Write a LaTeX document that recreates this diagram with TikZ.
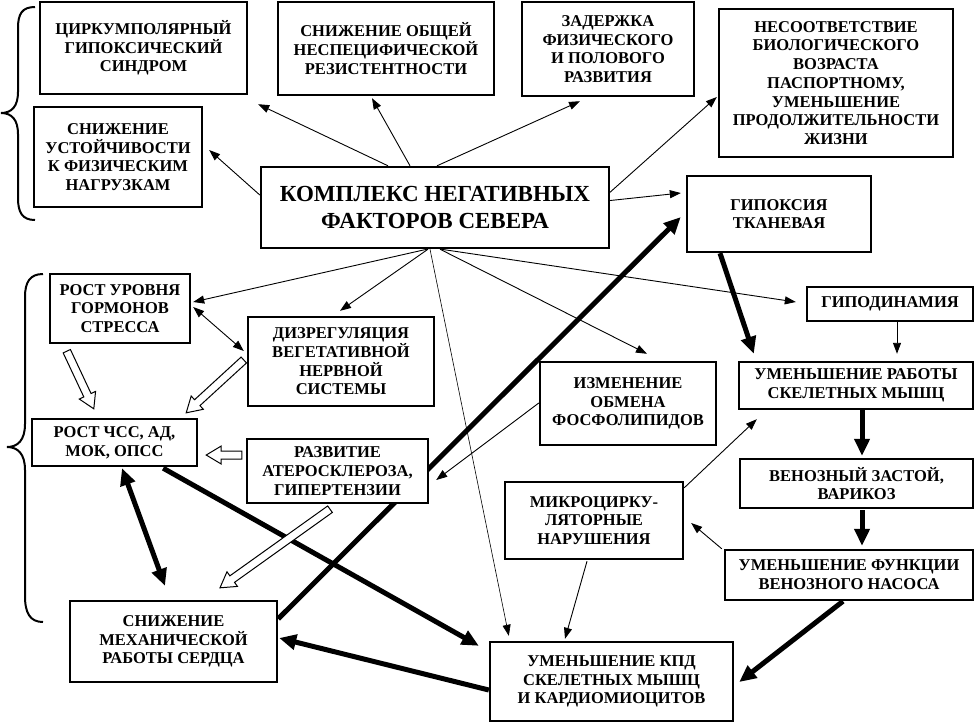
\documentclass[tikz,border=0pt]{standalone}
\usepackage{fontspec}
\setmainfont{Liberation Serif}
\usetikzlibrary{arrows.meta,calc}
\pgfdeclarelayer{bg}
\pgfsetlayers{bg,main}
\newcommand\hollowarr[2]{%
  \coordinate (hA) at (#1);
  \coordinate (hB) at (#2);
  \coordinate (hH) at ($(hB)!15pt!(hA)$);
  \draw[hollowst] ($(hA)!4pt!90:(hB)$) -- ($(hH)!4pt!90:(hB)$) -- ($(hH)!9pt!90:(hB)$) -- (hB)
     -- ($(hH)!9pt!-90:(hB)$) -- ($(hH)!4pt!-90:(hB)$) -- ($(hA)!4pt!-90:(hB)$) -- cycle;}
\begin{document}
\begin{tikzpicture}[x=1pt,y=-1pt,
  box/.style={draw, fill=white, line width=2.4pt, align=center, inner sep=0pt,
    font=\fontsize{16.5}{18.7}\selectfont\bfseries},
  tarr/.style={line width=0.9pt, -{Triangle[length=11pt,width=8pt]}},
  tdbl/.style={line width=0.9pt, {Triangle[length=11pt,width=8pt]}-{Triangle[length=11pt,width=8pt]}},
  farr/.style={line width=5pt, -{Triangle[length=17pt,width=15pt]}},
  fdbl/.style={line width=5pt, {Triangle[length=17pt,width=15pt]}-{Triangle[length=17pt,width=15pt]}},
  hollowst/.style={draw, fill=white, line width=1pt, line join=miter},
  bracest/.style={line width=2pt}]
\begin{pgfonlayer}{bg}
\useasboundingbox[fill=white] (0,0) rectangle (976,724);
\end{pgfonlayer}

% boxes
\node[box, minimum width=207pt, minimum height=92pt] (c1) at (143.5,48) {ЦИРКУМПОЛЯРНЫЙ\\ГИПОКСИЧЕСКИЙ\\СИНДРОМ};
\node[box, minimum width=216pt, minimum height=93pt] (c2) at (386,48.5) {СНИЖЕНИЕ ОБЩЕЙ\\НЕСПЕЦИФИЧЕСКОЙ\\РЕЗИСТЕНТНОСТИ};
\node[box, minimum width=172pt, minimum height=94pt] (c3) at (608,49) {ЗАДЕРЖКА\\ФИЗИЧЕСКОГО\\И ПОЛОВОГО\\РАЗВИТИЯ};
\node[box, minimum width=234pt, minimum height=148pt] (c4) at (836,83) {НЕСООТВЕТСТВИЕ\\БИОЛОГИЧЕСКОГО\\ВОЗРАСТА\\ПАСПОРТНОМУ,\\УМЕНЬШЕНИЕ\\ПРОДОЛЖИТЕЛЬНОСТИ\\ЖИЗНИ};
\node[box, minimum width=168pt, minimum height=100pt] (c5) at (118,157) {СНИЖЕНИЕ\\УСТОЙЧИВОСТИ\\К ФИЗИЧЕСКИМ\\НАГРУЗКАМ};
\node[box, minimum width=348pt, minimum height=81pt, font=\fontsize{23}{27}\selectfont\bfseries] (c6) at (435,207.5) {КОМПЛЕКС НЕГАТИВНЫХ\\ФАКТОРОВ СЕВЕРА};
\node[box, minimum width=184pt, minimum height=76pt] (c7) at (779,214) {ГИПОКСИЯ\\ТКАНЕВАЯ};
\node[box, minimum width=140pt, minimum height=69pt] (c8) at (120,308.5) {РОСТ УРОВНЯ\\ГОРМОНОВ\\СТРЕССА};
\node[box, minimum width=186pt, minimum height=89pt] (c9) at (341,361.5) {ДИЗРЕГУЛЯЦИЯ\\ВЕГЕТАТИВНОЙ\\НЕРВНОЙ\\СИСТЕМЫ};
\node[box, minimum width=165pt, minimum height=47pt] (c10) at (114.5,442.5) {РОСТ ЧСС, АД,\\МОК, ОПСС};
\node[box, minimum width=181pt, minimum height=64pt] (c11) at (337.5,471) {РАЗВИТИЕ\\АТЕРОСКЛЕРОЗА,\\ГИПЕРТЕНЗИИ};
\node[box, minimum width=166pt, minimum height=34pt] (c12) at (890,304) {ГИПОДИНАМИЯ};
\node[box, minimum width=176pt, minimum height=83pt] (c13) at (628,403.5) {ИЗМЕНЕНИЕ\\ОБМЕНА\\ФОСФОЛИПИДОВ};
\node[box, minimum width=234pt, minimum height=47pt] (c14) at (856,385.5) {УМЕНЬШЕНИЕ РАБОТЫ\\СКЕЛЕТНЫХ МЫШЦ};
\node[box, minimum width=233pt, minimum height=49pt] (c15) at (856.5,483.5) {ВЕНОЗНЫЙ ЗАСТОЙ,\\ВАРИКОЗ};
\node[box, minimum width=178pt, minimum height=77pt] (c16) at (594,520.5) {МИКРОЦИРКУ-\\ЛЯТОРНЫЕ\\НАРУШЕНИЯ};
\node[box, minimum width=248pt, minimum height=50pt] (c17) at (849,575) {УМЕНЬШЕНИЕ ФУНКЦИИ\\ВЕНОЗНОГО НАСОСА};
\node[box, minimum width=207pt, minimum height=81pt] (c18) at (173.5,641.5) {СНИЖЕНИЕ\\МЕХАНИЧЕСКОЙ\\РАБОТЫ СЕРДЦА};
\node[box, minimum width=243pt, minimum height=79pt] (c19) at (611.5,681.5) {УМЕНЬШЕНИЕ КПД\\СКЕЛЕТНЫХ МЫШЦ\\И КАРДИОМИОЦИТОВ};

% braces
\draw[bracest] (35,7) .. controls (22,7) and (18,14) .. (18,28) -- (18,92)
  .. controls (18,106) and (12,113) .. (1,113) .. controls (12,113) and (18,120) .. (18,134)
  -- (18,198) .. controls (18,212) and (22,220) .. (35,220);
\draw[bracest] (43,274) .. controls (30,274) and (25,282) .. (25,297) -- (25,424)
  .. controls (25,440) and (18,447) .. (7,447) .. controls (18,447) and (25,454) .. (25,470)
  -- (25,596) .. controls (25,613) and (30,622) .. (43,622);

\begin{pgfonlayer}{bg}
% thin arrows from the central box
\draw[tarr] ($(c6.north)+(-47,0)$) -- ($(c1.south east)+(10,9)$);
\draw[tarr] ($(c6.north)+(-25,0)$) -- ($(c2.south)+(-14,2)$);
\draw[tarr] ($(c6.west)+(0,-12.5)$) -- ($(c5.east)+(6,-7)$);
\draw[tarr] ($(c6.north)+(2,0)$) -- ($(c3.south)+(-28,4)$);
\draw[tarr] ($(c6.east)+(-1,-14.5)$) -- ($(c4.west)+(-1,14)$);
\draw[tarr] ($(c6.east)+(0,-7)$) -- ($(c7.west)+(-5,-21)$);
\draw[tarr] ($(c6.south)+(-8,0)$) -- ($(c8.east)+(2,-6.5)$);
\draw[tarr] ($(c6.south)+(-7,0)$) -- ($(c9.north)+(-1,-5)$);
\draw[tarr, line width=0.6pt] ($(c6.south)+(-5,0)$) -- ($(c19.north west)+(20,-5)$);
\draw[tarr] ($(c6.south)+(5,0)$) -- ($(c13.north)+(19,-7)$);
\draw[tarr] ($(c6.south)+(6,0)$) -- ($(c12.west)+(-10,-2)$);

% other thin arrows
\draw[tdbl] ($(c8.east)+(2,-1.5)$) -- ($(c9.west)+(-3,-10.5)$);
\draw[tarr] ($(c13.west)+(0,-0.5)$) -- ($(c11.east)+(7,9)$);
\draw[tarr] ($(c12.south)+(7,0)$) -- ($(c14.north)+(41,-7)$);
\draw[tarr] ($(c16.north east)+(0,7)$) -- ($(c14.south west)+(19,9)$);
\draw[tarr] ($(c17.north west)+(-2,0)$) -- ($(c16.east)+(7,2.5)$);
\draw[tarr] ($(c16.south)+(-7,1)$) -- ($(c19.north)+(-46.5,-2)$);

% thick arrows
\draw[fdbl] ($(c10.south)+(7.5,1)$) -- ($(c18.north)+(-8.5,-14)$);
\draw[farr] ($(c10.south east)+(-35,1)$) -- ($(c19.north west)+(-10,5)$);
\draw[farr] ($(c18.north east)+(0,19)$) -- ($(c7.west)+(-5,3)$);
\draw[farr] ($(c19.west)+(0,8.5)$) -- ($(c18.east)+(1,-3.5)$);
\draw[farr] ($(c7.south)+(-59,0)$) -- ($(c14.north west)+(16,-7)$);
\draw[farr] ($(c14.south)+(6,0)$) -- ($(c15.north)+(5.5,-2)$);
\draw[farr] ($(c15.south)+(5.5,1)$) -- ($(c17.north)+(13,-3)$);
\draw[farr] ($(c17.south)+(-6,0)$) -- ($(c19.east)+(5,0.5)$);
\end{pgfonlayer}

% hollow arrows
\hollowarr{$(c8.south west)+(18,7)$}{$(c10.north west)+(63,-9)$}
\hollowarr{$(c9.west)+(-3,-1.5)$}{$(c10.north east)+(-12,-5)$}
\hollowarr{$(c11.west)+(-4,-16)$}{$(c10.east)+(8,12.5)$}
\hollowarr{$(c11.south)+(-7.5,5)$}{$(c18.north)+(46.5,-12)$}
\end{tikzpicture}
\end{document}
